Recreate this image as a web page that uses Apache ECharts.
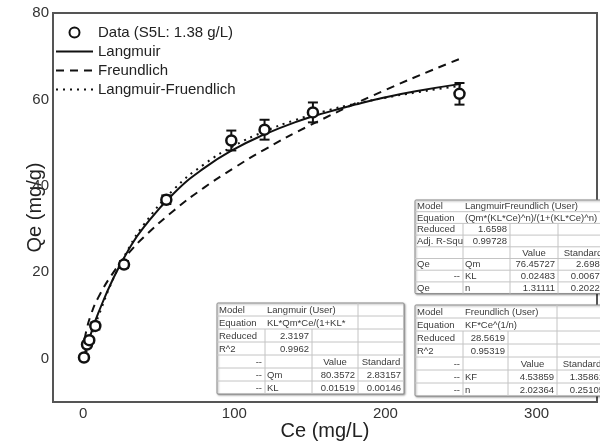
<!DOCTYPE html>
<html><head><meta charset="utf-8">
<script src="https://cdn.jsdelivr.net/npm/echarts@6/dist/echarts.min.js"></script>
<style>html,body{margin:0;padding:0;background:#fff}#c{width:600px;height:446px}</style>
</head><body><div id="c"></div>
<script>
// ---- data ----
const ceData  = [0.5, 2.5, 4, 8, 27, 55, 98, 120, 152, 249];
const qeData  = [0.3, 3.3, 4.3, 7.6, 21.8, 36.8, 50.5, 53.0, 57.0, 61.3];
const errData = [0.6, 0.6, 0.6, 0.8, 0.8, 1.0, 2.3, 2.3, 2.3, 2.5];

const langCe = [0, 5, 10, 20, 30, 40, 60, 80, 100, 120, 140, 160, 180, 200, 220, 250];
const langQe = [0, 5.7, 10.6, 18.7, 25.2, 30.4, 38.3, 44.1, 48.5, 51.9, 54.7, 56.9, 58.8, 60.5, 61.9, 63.6];
const freuCe = [1, 2, 5, 10, 20, 30, 40, 60, 80, 100, 120, 150, 200, 250];
const freuQe = [4.5, 6.4, 10.1, 14.2, 20.0, 24.4, 28.1, 34.3, 39.6, 44.2, 48.4, 54.0, 62.2, 69.5];
const lfCe = [2, 5, 10, 20, 30, 40, 60, 80, 100, 120, 140, 160, 180, 200, 220, 250];
const lfQe = [1.5, 5.0, 9.8, 18.6, 25.5, 31.0, 39.2, 45.0, 49.3, 52.6, 55.2, 57.3, 59.0, 60.4, 61.6, 63.2];

const seriesNames = ['Data (S5L: 1.38 g/L)', 'Langmuir', 'Freundlich', 'Langmuir-Fruendlich'];
const xTickLabels = [0, 100, 200, 300];
const yTickLabels = [0, 20, 40, 60, 80];

const tableLangmuir = [
  ['Model', 'Langmuir (User)', '', ''],
  ['Equation', 'KL*Qm*Ce/(1+KL*', '', ''],
  ['Reduced', '2.3197', '', ''],
  ['R^2', '0.9962', '', ''],
  ['--', '', 'Value', 'Standard'],
  ['--', 'Qm', '80.3572', '2.83157'],
  ['--', 'KL', '0.01519', '0.00146']
];
const tableFreundlich = [
  ['Model', 'Freundlich (User)', '', ''],
  ['Equation', 'KF*Ce^(1/n)', '', ''],
  ['Reduced', '28.5619', '', ''],
  ['R^2', '0.95319', '', ''],
  ['--', '', 'Value', 'Standard'],
  ['--', 'KF', '4.53859', '1.35861'],
  ['--', 'n', '2.02364', '0.25105']
];
const tableLF = [
  ['Model', 'LangmuirFreundlich (User)', '', ''],
  ['Equation', '(Qm*(KL*Ce)^n)/(1+(KL*Ce)^n)', '', ''],
  ['Reduced', '1.6598', '', ''],
  ['Adj. R-Squ', '0.99728', '', ''],
  ['', '', 'Value', 'Standard'],
  ['Qe', 'Qm', '76.45727', '2.6984'],
  ['--', 'KL', '0.02483', '0.00677'],
  ['Qe', 'n', '1.31111', '0.20227']
];

// ---- build ----
const zip = (a, b) => a.map((v, i) => [v, b[i]]);
const errBars = ceData.map((c, i) => [c, qeData[i] - errData[i], qeData[i] + errData[i]]);

function makeTable(x0, y0, colW, rowH, rows, spanCols) {
  const children = [];
  const totalW = colW.reduce((a, b) => a + b, 0);
  const totalH = rowH * rows.length;
  children.push({ type: 'rect', shape: { x: x0, y: y0, width: totalW, height: totalH, r: 1 },
    style: { fill: '#fff', stroke: '#8a8a8a', lineWidth: 1, shadowBlur: 2, shadowColor: 'rgba(0,0,0,0.35)', shadowOffsetX: 1, shadowOffsetY: 1 } });
  const colX = [x0];
  colW.forEach((w, i) => colX.push(colX[i] + w));
  rows.forEach((row, r) => {
    const y = y0 + r * rowH;
    if (r > 0) children.push({ type: 'line', shape: { x1: x0, y1: y, x2: x0 + totalW, y2: y }, style: { stroke: '#c4c4c4', lineWidth: 1 } });
    for (let c = 1; c < colW.length; c++) {
      if (r < 2 && c < spanCols) continue;
      children.push({ type: 'line', shape: { x1: colX[c], y1: y, x2: colX[c], y2: y + rowH }, style: { stroke: '#c4c4c4', lineWidth: 1 } });
    }
    row.forEach((t, c) => {
      if (!t) return;
      const numeric = /^[0-9.\-]+$/.test(t);
      let align = 'left', tx = colX[c] + 2;
      if (numeric) { align = 'right'; tx = colX[c + 1] - 3; }
      if (t === 'Value' || t === 'Standard') { align = 'center'; tx = (colX[c] + colX[c + 1]) / 2; }
      children.push({ type: 'text', style: { text: t, x: tx, y: y + rowH / 2 + 0.5, textAlign: align, textVerticalAlign: 'middle',
        font: '9.5px "Liberation Sans", Arial, sans-serif', fill: '#3a3a3a' } });
    });
  });
  return { type: 'group', z: 100, children };
}

const chart = echarts.init(document.getElementById('c'), null, { renderer: 'canvas' });
const font = '"Liberation Sans", Arial, sans-serif';
const lineItem = name => ({ name, itemStyle: { opacity: 0 } });
chart.setOption({
  animation: false,
  backgroundColor: '#fff',
  grid: { left: 53, top: 13, width: 548, bottom: 39, show: true, borderColor: '#555', borderWidth: 2 },
  xAxis: {
    type: 'value', min: -20, max: 340, interval: 20,
    name: 'Ce (mg/L)', nameLocation: 'middle', nameGap: 19, nameMoveOverlap: false,
    nameTextStyle: { fontSize: 20, color: '#222', fontFamily: font },
    axisLine: { onZero: false, lineStyle: { color: '#555', width: 2 } },
    axisTick: { show: false }, splitLine: { show: false },
    axisLabel: { margin: 4, fontSize: 15, color: '#333', fontFamily: font,
      formatter: v => xTickLabels.includes(v) ? String(v) : '' }
  },
  yAxis: {
    type: 'value', min: -10, max: 80, interval: 10,
    name: 'Qe (mg/g)', nameLocation: 'middle', nameGap: 8, nameRotate: 90, nameMoveOverlap: false,
    nameTextStyle: { fontSize: 20, color: '#222', fontFamily: font },
    axisLine: { onZero: false, lineStyle: { color: '#555', width: 2 } },
    axisTick: { show: false }, splitLine: { show: false },
    axisLabel: { margin: 4, fontSize: 15, color: '#333', fontFamily: font,
      formatter: v => yTickLabels.includes(v) ? String(v) : '' }
  },
  legend: {
    orient: 'vertical', left: 50, top: 20, itemWidth: 37, itemHeight: 10, itemGap: 4,
    textStyle: { fontSize: 15, color: '#222', fontFamily: font },
    data: [seriesNames[0], lineItem(seriesNames[1]), lineItem(seriesNames[2]), lineItem(seriesNames[3])]
  },
  series: [
    { name: seriesNames[1], type: 'line', data: zip(langCe, langQe), smooth: true, symbol: 'none',
      lineStyle: { color: '#111', width: 2 }, itemStyle: { color: '#111' }, z: 3 },
    { name: seriesNames[2], type: 'line', data: zip(freuCe, freuQe), smooth: true, symbol: 'none',
      lineStyle: { color: '#111', width: 2, type: [8, 6] }, itemStyle: { color: '#111' }, z: 3 },
    { name: seriesNames[3], type: 'line', data: zip(lfCe, lfQe), smooth: true, symbol: 'none',
      lineStyle: { color: '#111', width: 2, type: [2, 5] }, itemStyle: { color: '#111' }, z: 3 },
    { name: 'err', type: 'custom', data: errBars, z: 4,
      renderItem: (params, api) => {
        const x = api.value(0);
        const p1 = api.coord([x, api.value(1)]);
        const p2 = api.coord([x, api.value(2)]);
        const w = 5;
        const st = { stroke: '#111', lineWidth: 2 };
        return { type: 'group', children: [
          { type: 'line', shape: { x1: p1[0], y1: p1[1], x2: p2[0], y2: p2[1] }, style: st },
          { type: 'line', shape: { x1: p1[0] - w, y1: p1[1], x2: p1[0] + w, y2: p1[1] }, style: st },
          { type: 'line', shape: { x1: p2[0] - w, y1: p2[1], x2: p2[0] + w, y2: p2[1] }, style: st }
        ] };
      } },
    { name: seriesNames[0], type: 'scatter', data: zip(ceData, qeData), symbol: 'circle', symbolSize: 10, z: 5,
      itemStyle: { color: '#fff', borderColor: '#111', borderWidth: 2.5, opacity: 1 } }
  ],
  graphic: [
    makeTable(415, 200, [48, 47, 48, 50], 11.7, tableLF, 4),
    makeTable(217, 303, [48, 47, 46, 46], 13, tableLangmuir, 3),
    makeTable(415, 305, [48, 45, 49, 50], 13, tableFreundlich, 3)
  ]
});
</script></body></html>
